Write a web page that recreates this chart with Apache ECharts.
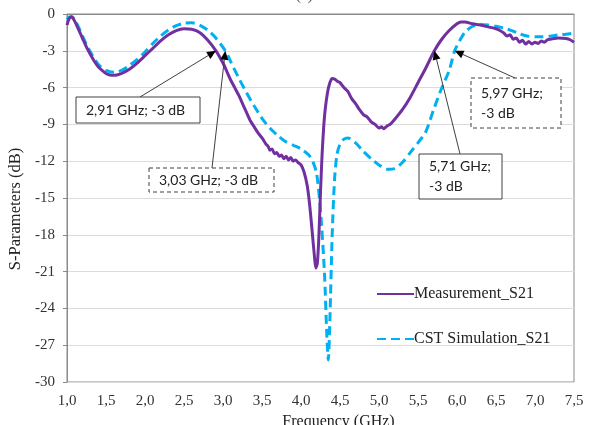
<!DOCTYPE html>
<html>
<head>
<meta charset="utf-8">
<script src="https://cdn.jsdelivr.net/npm/echarts@6/dist/echarts.min.js"></script>
<style>
  html, body { margin: 0; padding: 0; background: #fff; }
  #chart { width: 591px; height: 425px; }
</style>
</head>
<body>
<div id="chart"></div>
<script>
// Measured S21 (frequency in GHz, magnitude in dB)
const measFreq = [1.00,1.03,1.06,1.10,1.15,1.20,1.25,1.30,1.35,1.40,1.45,1.50,1.55,1.60,1.65,1.70,1.80,1.90,2.00,2.10,2.20,2.30,2.40,2.50,2.60,2.70,2.80,2.91,3.00,3.05,3.10,3.15,3.20,3.25,3.30,3.35,3.40,3.45,3.50,3.55,3.58,3.60,3.63,3.66,3.69,3.72,3.75,3.78,3.81,3.84,3.87,3.90,3.93,3.96,4.00,4.04,4.08,4.11,4.14,4.17,4.19,4.21,4.23,4.25,4.27,4.29,4.31,4.34,4.37,4.40,4.43,4.47,4.50,4.55,4.60,4.65,4.70,4.75,4.80,4.85,4.90,4.95,5.00,5.03,5.06,5.10,5.15,5.20,5.30,5.40,5.50,5.60,5.71,5.80,5.90,6.00,6.05,6.10,6.20,6.30,6.40,6.50,6.55,6.60,6.64,6.68,6.72,6.76,6.80,6.84,6.88,6.92,6.96,7.00,7.04,7.08,7.12,7.16,7.20,7.30,7.40,7.45,7.50];
const measS21 = [-0.9,-0.35,-0.25,-0.6,-1.3,-2.0,-2.7,-3.3,-3.85,-4.3,-4.6,-4.85,-4.97,-5.0,-4.95,-4.85,-4.5,-4.0,-3.4,-2.8,-2.2,-1.7,-1.35,-1.2,-1.25,-1.5,-2.1,-3.0,-4.0,-4.7,-5.4,-6.0,-6.6,-7.3,-8.0,-8.7,-9.2,-9.7,-10.1,-10.6,-10.8,-11.1,-11.0,-11.4,-11.3,-11.6,-11.5,-11.8,-11.6,-11.9,-11.7,-12.0,-11.9,-12.1,-12.3,-12.9,-14.0,-15.5,-17.5,-19.6,-20.7,-20.3,-18.0,-14.5,-11.5,-9.3,-7.8,-6.4,-5.6,-5.25,-5.3,-5.5,-5.6,-6.0,-6.3,-6.9,-7.3,-7.8,-8.2,-8.4,-8.8,-9.0,-9.3,-9.2,-9.35,-9.15,-8.95,-8.6,-7.8,-6.8,-5.6,-4.4,-3.0,-2.1,-1.35,-0.8,-0.65,-0.65,-0.8,-0.9,-1.05,-1.2,-1.35,-1.55,-1.8,-1.7,-2.05,-1.95,-2.3,-2.15,-2.45,-2.25,-2.45,-2.3,-2.4,-2.2,-2.3,-2.1,-2.05,-1.95,-2.0,-2.1,-2.3];

// CST simulated S21
const simFreq = [1.00,1.03,1.06,1.10,1.15,1.20,1.25,1.30,1.40,1.50,1.60,1.65,1.70,1.80,1.90,2.00,2.10,2.20,2.30,2.40,2.50,2.60,2.70,2.80,2.90,3.03,3.10,3.20,3.30,3.40,3.50,3.60,3.70,3.80,3.90,4.00,4.10,4.15,4.20,4.25,4.30,4.33,4.35,4.37,4.40,4.43,4.46,4.50,4.55,4.60,4.70,4.80,4.90,5.00,5.10,5.20,5.30,5.40,5.50,5.60,5.70,5.80,5.90,5.97,6.05,6.10,6.20,6.30,6.40,6.50,6.60,6.70,6.80,6.90,7.00,7.10,7.20,7.30,7.40,7.50];
const simS21 = [-0.45,-0.25,-0.2,-0.45,-1.1,-1.8,-2.5,-3.1,-4.1,-4.6,-4.75,-4.72,-4.6,-4.2,-3.7,-3.1,-2.4,-1.8,-1.3,-0.95,-0.75,-0.72,-0.9,-1.3,-1.9,-3.0,-3.9,-5.2,-6.4,-7.5,-8.5,-9.3,-9.9,-10.4,-10.7,-11.0,-11.5,-12.0,-13.0,-16.0,-21.0,-26.0,-28.2,-25.0,-18.0,-13.5,-11.5,-10.6,-10.2,-10.1,-10.5,-11.2,-11.8,-12.3,-12.65,-12.6,-12.1,-11.3,-10.5,-9.6,-7.8,-6.1,-4.6,-3.0,-2.0,-1.5,-1.0,-0.85,-0.9,-1.0,-1.15,-1.35,-1.6,-1.8,-1.85,-1.85,-1.8,-1.7,-1.65,-1.55];

// Axis ranges and ticks
const xMin = 1.0, xMax = 7.5, xStep = 0.5;
const yMin = -30, yMax = 0, yStep = 3;

// Cut-off annotations: [frequency GHz, level dB, text lines]
const notes = [
  { f: 2.91, db: -3, lines: ['2,91 GHz; -3 dB'] },
  { f: 3.03, db: -3, lines: ['3,03 GHz; -3 dB'] },
  { f: 5.97, db: -3, lines: ['5,97 GHz;', '-3 dB'] },
  { f: 5.71, db: -3, lines: ['5,71 GHz;', '-3 dB'] }
];

const serif = '"Liberation Serif", "DejaVu Serif", serif';
const sans = 'Lato, "Open Sans", sans-serif';

const pair = (xs, ys) => xs.map((x, i) => [x, ys[i]]);

const chart = echarts.init(document.getElementById('chart'), null, { renderer: 'canvas' });

chart.setOption({
  animation: false,
  backgroundColor: '#ffffff',
  title: {
    text: '(a)', left: 291, top: -16,
    textStyle: { fontFamily: serif, fontSize: 15, fontWeight: 'normal', color: '#555' }
  },
  grid: {
    left: 67, right: 17, top: 14, bottom: 43,
    outerBoundsMode: 'none', containLabel: false,
    show: true, borderColor: '#8a8a8a', borderWidth: 1, backgroundColor: 'transparent'
  },
  legend: {
    orient: 'vertical', left: 376, top: 286, itemGap: 29, padding: 0,
    itemWidth: 37, itemHeight: 14,
    itemStyle: { opacity: 0 },
    textStyle: { fontFamily: serif, fontSize: 16, color: '#222', padding: [0, 0, 0, -5] },
    data: ['Measurement_S21', 'CST Simulation_S21']
  },
  xAxis: {
    type: 'value', min: xMin, max: xMax, interval: xStep,
    name: 'Frequency (GHz)', nameLocation: 'middle', nameGap: 31,
    nameTextStyle: { fontFamily: serif, fontSize: 16, color: '#222', padding: [0, 0, 0, 36] },
    axisLine: { show: true, lineStyle: { color: '#8a8a8a', width: 1 } },
    axisTick: { show: false },
    splitLine: { show: false },
    axisLabel: {
      margin: 12, fontFamily: serif, fontSize: 15, color: '#333',
      formatter: v => v.toFixed(1).replace('.', ',')
    }
  },
  yAxis: {
    type: 'value', min: yMin, max: yMax, interval: yStep,
    name: 'S-Parameters (dB)', nameLocation: 'middle', nameGap: 41,
    nameTextStyle: { fontFamily: serif, fontSize: 16.5, color: '#222', padding: [0, 22, 0, 0] },
    axisLine: { show: true, lineStyle: { color: '#8a8a8a', width: 1 } },
    axisTick: { show: true, inside: false, length: 4, lineStyle: { color: '#8a8a8a' } },
    splitLine: { show: true, lineStyle: { color: '#dcdcdc', width: 1 } },
    axisLabel: {
      margin: 12, fontFamily: serif, fontSize: 15, color: '#333',
      formatter: v => String(v)
    }
  },
  series: [
    {
      name: 'Measurement_S21', type: 'line', data: pair(measFreq, measS21),
      showSymbol: false, symbol: 'none', smooth: 0.25,
      lineStyle: { color: '#7030a0', width: 3 }, itemStyle: { color: '#7030a0' }, z: 3
    },
    {
      name: 'CST Simulation_S21', type: 'line', data: pair(simFreq, simS21),
      showSymbol: false, symbol: 'none', smooth: 0.25,
      lineStyle: { color: '#00b0f0', width: 3, type: [9, 5] }, itemStyle: { color: '#00b0f0' }, z: 2
    }
  ]
});

// Annotation boxes (pixel layout) and arrows pointing at the annotated data points
const boxes = [
  { x: 76, y: 97, w: 124, h: 26, dashed: false, tail: [140, 97] },
  { x: 149, y: 168, w: 125, h: 24, dashed: true, tail: [212, 168] },
  { x: 471, y: 78, w: 90, h: 50, dashed: true, tail: [515, 78] },
  { x: 419, y: 154, w: 83, h: 45, dashed: false, tail: [460, 154] }
];

function arrow(x0, y0, x1, y1) {
  const dx = x1 - x0, dy = y1 - y0;
  const len = Math.hypot(dx, dy);
  const ux = dx / len, uy = dy / len;
  const hl = 9, hw = 4;
  const bx = x1 - ux * hl, by = y1 - uy * hl;
  return [
    { type: 'line', shape: { x1: x0, y1: y0, x2: bx, y2: by },
      style: { stroke: '#404040', lineWidth: 1 }, z: 10 },
    { type: 'polygon',
      shape: { points: [[x1, y1], [bx - uy * hw, by + ux * hw], [bx + uy * hw, by - ux * hw]] },
      style: { fill: '#000' }, z: 10 }
  ];
}

const elements = [];
notes.forEach((n, i) => {
  const b = boxes[i];
  const tip = chart.convertToPixel({ gridIndex: 0 }, [n.f, n.db]);
  elements.push(...arrow(b.tail[0], b.tail[1], tip[0], tip[1]));
  elements.push({
    type: 'rect', shape: { x: b.x, y: b.y, width: b.w, height: b.h },
    style: { fill: '#fff', stroke: '#404040', lineWidth: 1, lineDash: b.dashed ? [4, 3] : null },
    z: 11
  });
  elements.push({
    type: 'text', x: b.x + 10, y: b.y + b.h / 2,
    style: {
      text: n.lines.join('\n'), fontFamily: sans, fontSize: 14, lineHeight: 20,
      fill: '#222', verticalAlign: 'middle', align: 'left'
    },
    z: 12
  });
});

chart.setOption({ graphic: { elements } });
</script>
</body>
</html>
